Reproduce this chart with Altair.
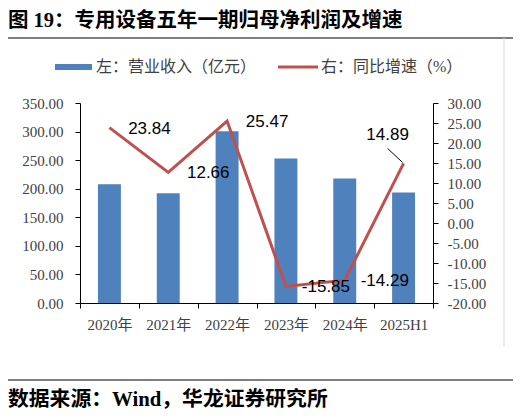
import altair as alt
import pandas as pd

# data
periods = ["2020年", "2021年", "2022年", "2023年", "2024年", "2025H1"]
revenue = [207.7, 192.0, 300.5, 253.0, 217.8, 193.5]   # 左：营业收入（亿元）
growth = [23.84, 12.66, 25.47, -15.85, -14.29, 14.89]   # 右：同比增速（%）

df = pd.DataFrame({"period": periods, "revenue": revenue, "growth": growth})
one = pd.DataFrame({"k": [0]})

SERIF = "Liberation Serif, Noto Sans CJK SC"
SANS = "Liberation Sans"
BLUE = "#4F81BD"
RED = "#C0504D"
GREY = "#404040"
HYPHEN = "replace(datum.label, '\u2212', '-')"

x_enc = alt.X(
    "period:N", sort=periods,
    scale=alt.Scale(paddingInner=0, paddingOuter=0),
    axis=alt.Axis(title=None, labelAngle=0, tickBand="extent", tickSize=5,
                  labelPadding=9, domainColor="black", tickColor="black",
                  labelFont=SERIF, labelFontSize=15, labelColor=GREY),
)

bars = alt.Chart(df).mark_bar(color=BLUE, width=alt.RelativeBandSize(0.39)).encode(
    x=x_enc,
    y=alt.Y("revenue:Q", scale=alt.Scale(domain=[0, 350], nice=False),
            axis=alt.Axis(title=None, orient="left", values=list(range(0, 351, 50)),
                          format=".2f", grid=False, tickSize=5, labelPadding=12,
                          domainColor="black", tickColor="black",
                          labelFont=SERIF, labelFontSize=15, labelColor=GREY)),
)

y_growth = alt.Y("growth:Q", scale=alt.Scale(domain=[-20, 30], nice=False),
                 axis=alt.Axis(title=None, orient="right", values=list(range(-20, 31, 5)),
                               format=".2f", labelExpr=HYPHEN, grid=False, tickSize=5,
                               labelPadding=9, domainColor="black", tickColor="black",
                               labelFont=SERIF, labelFontSize=15, labelColor=GREY))

base = alt.Chart(df).encode(x=x_enc, y=y_growth).transform_calculate(
    txt="replace(format(datum.growth, '.2f'), '\u2212', '-')"
)

line = base.mark_line(color=RED, strokeWidth=3)

labels = base.mark_text(dx=40, dy=1, font=SANS, fontSize=17, color="black").encode(
    text="txt:N"
).transform_filter(alt.FieldOneOfPredicate(field="period", oneOf=periods[:5]))

last_label = base.mark_text(dx=-16, dy=-28, font=SANS, fontSize=17, color="black").encode(
    text="txt:N"
).transform_filter(alt.FieldEqualPredicate(field="period", equal=periods[-1]))

leader = base.mark_rule(color="black", strokeWidth=1, xOffset=-16, yOffset=-15,
                        x2Offset=-1, y2Offset=-1).encode(
    x2="period:N", y2="growth:Q"
).transform_filter(alt.FieldEqualPredicate(field="period", equal=periods[-1]))

growth_layer = alt.layer(line, labels, last_label, leader)


def note(text, x, y, size, bold=False, color="black", font=SERIF):
    return alt.Chart(one).mark_text(align="left", baseline="middle", font=font, fontSize=size,
                                    fontWeight="bold" if bold else "normal", color=color).encode(
        x=alt.value(x), y=alt.value(y), text=alt.value(text))


def rule(x, x2, y, y2, color, width):
    return alt.Chart(one).mark_rule(color=color, strokeWidth=width).encode(
        x=alt.value(x), x2=alt.value(x2), y=alt.value(y), y2=alt.value(y2))


title = note("图 19：专用设备五年一期归母净利润及增速", -72, -82, 20.5, bold=True)
source = note("数据来源：Wind，华龙证券研究所", -72, 297, 20.8, bold=True)

frame = [
    rule(-75, 441, -65, -65, "#555555", 1.5),
    rule(-75, -75, -65, 277, "#555555", 1.5),
    rule(-75, 435, 277, 277, "#555555", 1.5),
    rule(424, 424, -65, 244, "#d9d9d9", 1),
]

legend_box = alt.Chart(one).mark_rect(color=BLUE).encode(
    x=alt.value(-25), x2=alt.value(12), y=alt.value(-39), y2=alt.value(-33))
legend_line = rule(198, 238, -36, -36, RED, 3)
legend_txt1 = note("左：营业收入（亿元）", 16, -36, 16, color=GREY)
legend_txt2 = note("右：同比增速（%）", 241, -36, 16, color=GREY)

chart = alt.layer(
    bars, growth_layer, title, source, *frame,
    legend_box, legend_line, legend_txt1, legend_txt2,
).resolve_scale(y="independent").properties(
    width=353, height=200,
    autosize=alt.AutoSizeParams(type="none"),
    padding={"left": 72, "top": 95, "right": 80, "bottom": 107},
).configure_view(stroke="transparent")

chart.save("out.html", embed_options={"renderer": "svg", "actions": False})
